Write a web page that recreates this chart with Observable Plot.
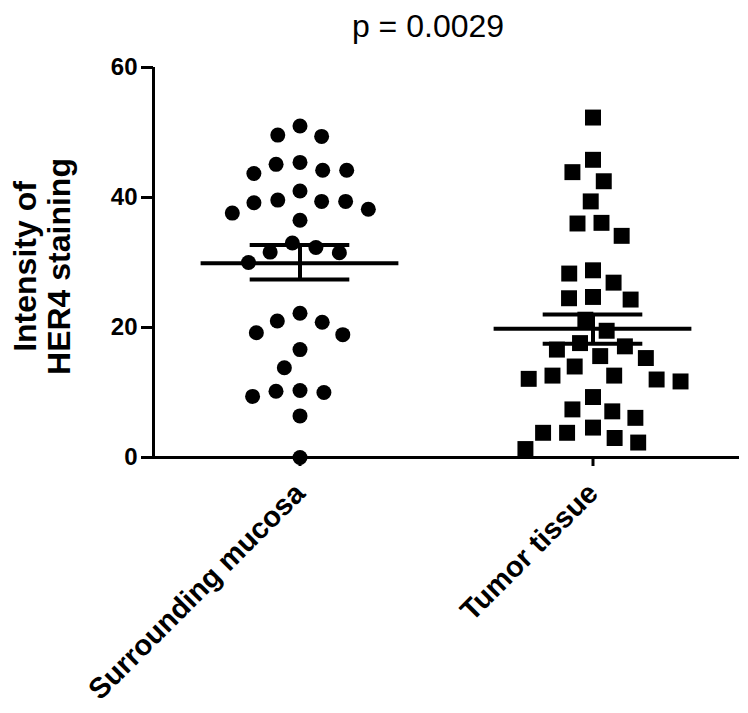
<!DOCTYPE html>
<html>
<head>
<meta charset="utf-8">
<script src="https://cdn.jsdelivr.net/npm/d3@7"></script>
<script src="https://cdn.jsdelivr.net/npm/@observablehq/plot@0.6"></script>
<style>
  html, body { margin: 0; padding: 0; background: #fff; }
  #title { width: 748px; height: 40px; box-sizing: border-box; padding-left: 108px; text-align: center;
           font: 32px "Liberation Sans", Arial, sans-serif; line-height: 52px; color: #000; white-space: nowrap; }
</style>
</head>
<body>
<div id="title">p = 0.0029</div>
<div id="chart"></div>
<script>
// ---- data ----
const groups = ["Surrounding mucosa", "Tumor tissue"];
const mucosaValues = [51.0, 49.6, 49.4, 45.4, 45.1, 44.2, 44.2, 43.7, 41.0, 39.6, 39.4, 39.4, 39.2, 38.2, 37.6, 36.5,
  33.0, 32.3, 31.6, 31.5, 30.0, 22.2, 21.0, 20.8, 19.2, 18.9, 16.6, 13.8, 10.3, 10.2, 10.0, 9.4, 6.4, 0.0];
const tumorValues = [52.3, 45.8, 43.9, 42.5, 39.4, 36.1, 36.0, 34.1, 28.8, 28.3, 26.9, 24.7, 24.5, 24.3, 21.2, 19.5,
  17.6, 17.1, 16.6, 15.6, 15.3, 14.0, 12.6, 12.6, 12.1, 12.0, 11.7, 9.3, 7.4, 7.1, 6.1, 4.6, 3.8, 3.8, 3.0, 2.3, 1.3];
const means = [29.9, 19.8];
const semHigh = [32.7, 22.0];
const semLow = [27.4, 17.5];
const yTicks = [0, 20, 40, 60];
const yLabel = "Intensity of\nHER4 staining";

// ---- tables built from the arrays ----
const mucosa = mucosaValues.map(v => ({group: groups[0], value: v}));
const tumor = tumorValues.map(v => ({group: groups[1], value: v}));
const summary = groups.map((g, i) => ({group: g, mean: means[i], hi: semHigh[i], lo: semLow[i]}));

const meanHalf = 0.675, semHalf = 0.34;

const chart = Plot.plot({
  width: 748,
  height: 673,
  marginLeft: 153,
  marginRight: 9,
  marginTop: 27,
  marginBottom: 256,
  style: {fontFamily: "'Liberation Sans', Arial, sans-serif", fontWeight: "bold", fontSize: "24px", color: "#000", background: "#fff"},
  fx: {domain: groups, padding: 0, label: null, axis: null},
  x: {domain: [-1, 1], axis: null},
  y: {domain: [0, 60], label: null},
  marks: [
    Plot.axisY({ticks: yTicks, tickSize: 12, tickPadding: 4, strokeWidth: 3, fontSize: 24, fontWeight: "bold", label: null}),
    Plot.axisFx({anchor: "bottom", tickSize: 9, tickPadding: 22, tickRotate: -45, strokeWidth: 3, fontSize: 29, fontWeight: "bold", label: null}),
    Plot.ruleX([groups[0]], {fx: d => d, x: -1, y1: 0, y2: 60, strokeWidth: 3}),
    Plot.ruleY([0], {strokeWidth: 3}),
    Plot.text([groups[0]], {fx: d => d, x: -1, y: 30, text: () => yLabel, rotate: -90, dx: -111, dy: 4,
      fontSize: 32, fontWeight: "bold", lineHeight: 1.05}),
    Plot.dot(mucosa, Plot.dodgeX({anchor: "middle", padding: 9}, {fx: "group", y: "value", r: 7.5, fill: "black", symbol: "circle"})),
    Plot.dot(tumor, Plot.dodgeX({anchor: "middle", padding: 6}, {fx: "group", y: "value", r: 9, fill: "black", symbol: "square"})),
    Plot.ruleY(summary, {fx: "group", y: "mean", x1: -meanHalf, x2: meanHalf, strokeWidth: 4}),
    Plot.ruleY(summary, {fx: "group", y: "hi", x1: -semHalf, x2: semHalf, strokeWidth: 4}),
    Plot.ruleY(summary, {fx: "group", y: "lo", x1: -semHalf, x2: semHalf, strokeWidth: 4}),
    Plot.ruleX(summary, {fx: "group", x: 0, y1: "lo", y2: "hi", strokeWidth: 4})
  ]
});
document.getElementById("chart").appendChild(chart);
</script>
</body>
</html>
